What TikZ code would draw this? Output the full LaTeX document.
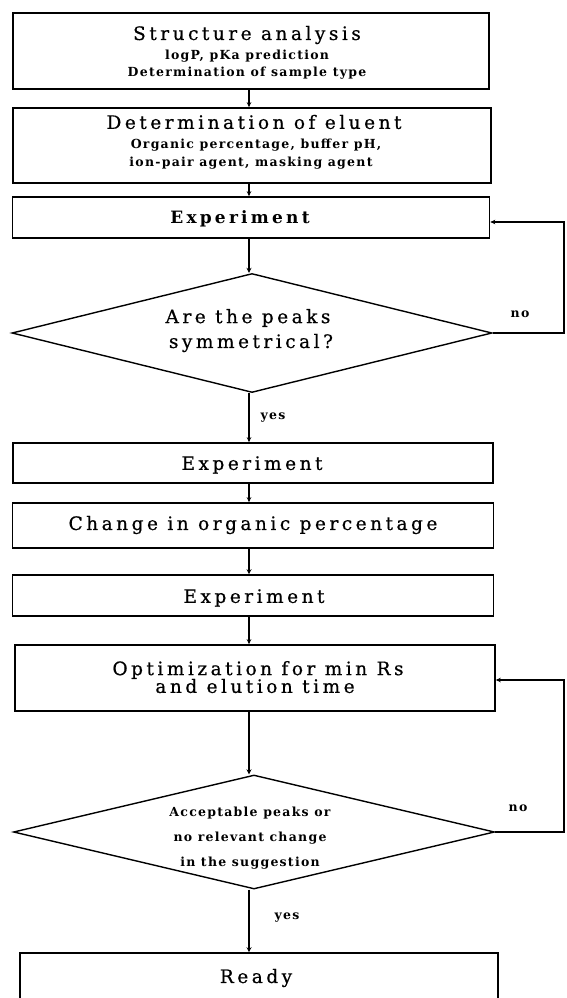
\documentclass[tikz,border=0pt]{standalone}
\usepackage{fontspec}
\usetikzlibrary{shapes.geometric,arrows.meta}
\setmainfont{DejaVu Serif}
\newfontfamily\ttlfont[LetterSpace=19,FakeBold=0.6]{DejaVu Serif}
\newfontfamily\ttlbfont[LetterSpace=19]{DejaVu Serif Bold}
\newfontfamily\smlfont[LetterSpace=10]{DejaVu Serif Bold}
\begin{document}
\begin{tikzpicture}[x=1pt,y=-1pt,
  box/.style={draw, rectangle, line width=1.6pt, inner sep=0pt},
  dia/.style={draw, shape=diamond, line width=1.4pt, inner sep=0pt},
  ttl/.style={font=\ttlfont\fontsize{18.5}{20}\selectfont, inner sep=0pt},
  ttlb/.style={font=\ttlbfont\fontsize{17}{20}\selectfont, inner sep=0pt},
  sml/.style={font=\smlfont\fontsize{12.5}{14}\selectfont, inner sep=0pt},
  conn/.style={line width=1.6pt, -{Stealth[length=5pt,width=4.5pt]}},
  heavy/.style={line width=2.6pt, -{Stealth[length=5pt,width=5pt]}},
  fb/.style={line width=1.9pt, -{Stealth[length=5pt,width=4.5pt]}}]
\useasboundingbox (0,0) rectangle (566,998);
\fill[white] (0,0) rectangle (566,998);

% boxes
\node[box, minimum width=476pt, minimum height=76pt] (b1) at (251,51) {};
\node[box, minimum width=478pt, minimum height=75pt] (b2) at (252,145.5) {};
\node[box, minimum width=477pt, minimum height=41pt] (b3) at (251,217.5) {};
\node[dia, minimum width=480pt, minimum height=119pt] (d1) at (252,333) {};
\node[box, minimum width=480pt, minimum height=40pt] (b4) at (253,463) {};
\node[box, minimum width=481pt, minimum height=45pt] (b5) at (253,525.5) {};
\node[box, minimum width=481pt, minimum height=41pt] (b6) at (253,595.5) {};
\node[box, minimum width=480pt, minimum height=66pt] (b7) at (255,678) {};
\node[dia, minimum width=481pt, minimum height=114pt] (d2) at (254,832) {};
\node[box, minimum width=478pt, minimum height=80pt] (b8) at (259,993) {};

% texts
\node[ttl] (t1a) at (247,35) {Structure analysis};
\node[sml] (t1b) at (247,56) {logP, pKa prediction};
\node[sml] (t1c) at (247,73) {Determination of sample type};
\node[ttl] (t2a) at (254,122) {Determination of eluent};
\node[sml] (t2b) at (256,145) {Organic percentage, buffer pH,};
\node[sml] (t2c) at (251,163) {ion-pair agent, masking agent};
\node[ttlb] (t3) at (240,219) {Experiment};
\node[ttl] (d1a) at (248,318) {Are the peaks};
\node[ttl] (d1b) at (251,343) {symmetrical?};
\node[ttl] (t4) at (252,465) {Experiment};
\node[ttl] (t5) at (253,525) {Change in organic percentage};
\node[ttl] (t6) at (254,598) {Experiment};
\node[ttl] (t7a) at (258,670) {Optimization for min Rs};
\node[ttl] (t7b) at (255,686) {and elution time};
\node[sml] (d2a) at (250,813) {Acceptable peaks or};
\node[sml] (d2b) at (250,838) {no relevant change};
\node[sml] (d2c) at (250,863) {in the suggestion};
\node[ttl] (t8) at (256,978) {Ready};

% labels
\node[sml] (yes1) at (273,418) {yes};
\node[sml] (no1) at (520,314) {no};
\node[sml] (yes2) at (287,918) {yes};
\node[sml] (no2) at (518,808) {no};

% connectors
\coordinate (ax) at (249,0);
\draw[conn] (b1.south -| ax) -- (b2.north -| ax);
\draw[conn] (b2.south -| ax) -- (b3.north -| ax);
\draw[heavy] (b3.south -| ax) -- (d1.north -| ax);
\draw[conn] (d1.south -| ax) -- (b4.north -| ax);
\draw[conn] (b4.south -| ax) -- (b5.north -| ax);
\draw[heavy] (b5.south -| ax) -- (b6.north -| ax);
\draw[conn] (b6.south -| ax) -- (b7.north -| ax);
\draw[heavy] (b7.south -| ax) -- (d2.north -| ax);
\draw[heavy] (d2.south -| ax) -- (b8.north -| ax);

% feedback loops
\coordinate (r1) at (564,222);
\coordinate (r2) at (564,680);
\draw[fb] (d1.east) -| (r1) -- (b3.east |- r1);
\draw[fb] (d2.east) -| (r2) -- (b7.east |- r2);
\end{tikzpicture}
\end{document}
